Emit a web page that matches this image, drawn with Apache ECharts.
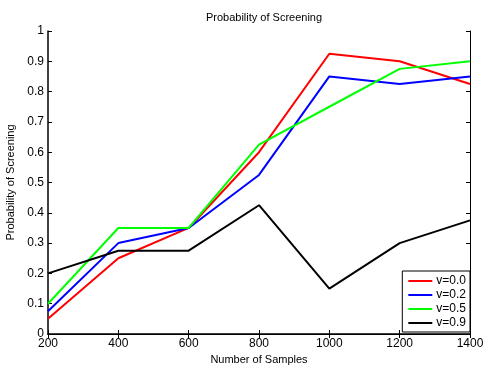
<!DOCTYPE html>
<html>
<head>
<meta charset="utf-8">
<script src="https://cdn.jsdelivr.net/npm/echarts@6/dist/echarts.min.js"></script>
<style>
  html, body { margin: 0; padding: 0; background: #fff; }
  #chart { width: 485px; height: 366px; }
</style>
</head>
<body>
<div id="chart"></div>
<script>
const samples = [200, 400, 600, 800, 1000, 1200, 1400];
const v00 = [0.05, 0.25, 0.35, 0.6, 0.925, 0.9, 0.825];
const v02 = [0.075, 0.3, 0.35, 0.525, 0.85, 0.825, 0.85];
const v05 = [0.1, 0.35, 0.35, 0.625, 0.75, 0.875, 0.9];
const v09 = [0.2, 0.275, 0.275, 0.425, 0.15, 0.3, 0.375];

const names = ['v=0.0', 'v=0.2', 'v=0.5', 'v=0.9'];
const colors = ['#ff0000', '#0000ff', '#00ff00', '#000000'];
const values = [v00, v02, v05, v09];

const font = 'Liberation Sans, Arial, sans-serif';
const chart = echarts.init(document.getElementById('chart'));

const tickStyle = { inside: true, length: 4, lineStyle: { color: '#000', width: 1 } };
const lineStyle = { lineStyle: { color: '#000', width: 1.5 } };

const option = {
  animation: false,
  title: {
    text: 'Probability of Screening',
    left: 259, top: 7, textAlign: 'center',
    textStyle: { fontFamily: font, fontSize: 11, fontWeight: 'normal', color: '#000' }
  },
  grid: { left: 48, right: 15, top: 31, bottom: 32, outerBoundsMode: 'none', containLabel: false },
  legend: {
    data: names,
    orient: 'vertical',
    right: 15, bottom: 34,
    backgroundColor: '#fff',
    borderColor: '#000', borderWidth: 1,
    padding: [4, 4, 3, 6],
    itemGap: 2,
    itemWidth: 24, itemHeight: 2,
    icon: 'rect',
    textStyle: { fontFamily: font, fontSize: 12, color: '#000', padding: [0, 0, 0, -1] }
  },
  xAxis: [{
    type: 'value', min: 200, max: 1400, interval: 200,
    name: 'Number of Samples', nameLocation: 'middle', nameGap: 17,
    nameTextStyle: { fontFamily: font, fontSize: 11, color: '#000' },
    axisLine: lineStyle, axisTick: tickStyle, splitLine: { show: false },
    axisLabel: { fontFamily: font, fontSize: 12, color: '#000', margin: 4, formatter: v => String(v) }
  }, {
    type: 'value', min: 200, max: 1400, interval: 200, position: 'top',
    axisLine: { lineStyle: { color: '#000', width: 1 } }, axisTick: tickStyle,
    axisLabel: { show: false }, splitLine: { show: false }
  }],
  yAxis: [{
    type: 'value', min: 0, max: 1, interval: 0.1,
    name: 'Probability of Screening', nameLocation: 'middle', nameGap: 28,
    nameTextStyle: { fontFamily: font, fontSize: 11, color: '#000' },
    axisLine: lineStyle, axisTick: tickStyle, splitLine: { show: false },
    axisLabel: {
      fontFamily: font, fontSize: 12, color: '#000', margin: 4,
      formatter: v => String(Math.round(v * 10) / 10)
    }
  }, {
    type: 'value', min: 0, max: 1, interval: 0.1, position: 'right',
    axisLine: { show: true, lineStyle: { color: '#000', width: 1 } }, axisTick: tickStyle,
    axisLabel: { show: false }, splitLine: { show: false }
  }],
  series: names.map((n, i) => ({
    name: n,
    type: 'line',
    data: samples.map((s, j) => [s, values[i][j]]),
    showSymbol: false,
    symbol: 'none',
    color: colors[i],
    lineStyle: { color: colors[i], width: 2 }
  }))
};

chart.setOption(option);
</script>
</body>
</html>
